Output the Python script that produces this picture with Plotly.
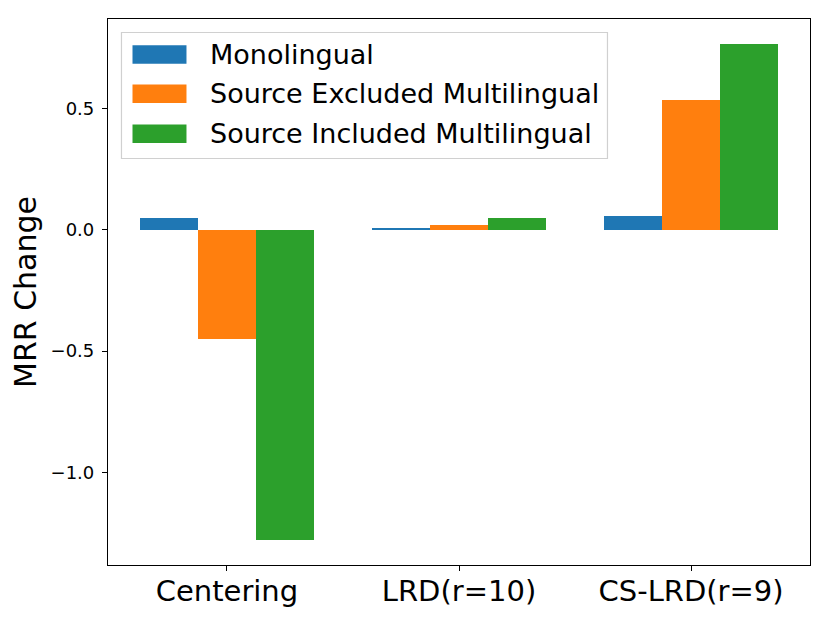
import plotly.graph_objects as go

categories = ["Centering", "LRD(r=10)", "CS-LRD(r=9)"]
series_names = ["Monolingual", "Source Excluded Multilingual", "Source Included Multilingual"]
mono = [0.048, 0.009, 0.059]
src_excl = [-0.449, 0.02, 0.538]
src_incl = [-1.278, 0.048, 0.769]
colors = ["#1f77b4", "#ff7f0e", "#2ca02c"]
offsets = [-0.25, 0.0, 0.25]
ytick_vals = [-1.0, -0.5, 0.0, 0.5]
ytick_text = ["\u22121.0", "\u22120.5", "0.0", "0.5"]

fig = go.Figure()
xpos = list(range(len(categories)))
for name, vals, col, off in zip(series_names, [mono, src_excl, src_incl], colors, offsets):
    fig.add_trace(go.Bar(
        x=[p + off for p in xpos], y=vals, name=name, width=0.25,
        marker=dict(color=col, line=dict(width=0)),
        showlegend=False,
    ))

# manual legend (matplotlib-style patches), positioned in axis-domain coordinates
leg_box = dict(x0=0.0192, x1=0.7115, y0=0.7445, y1=0.9753)
row_y = [0.935, 0.863, 0.790]
patch_x = (0.0349, 0.1118)
patch_h = 0.0339
text_x = 0.1420

fig.add_shape(type="rect", xref="x domain", yref="y domain",
              x0=leg_box["x0"], x1=leg_box["x1"], y0=leg_box["y0"], y1=leg_box["y1"],
              line=dict(color="#d0d0d0", width=1.2), fillcolor="rgba(255,255,255,0.8)",
              layer="above")
for name, col, yy in zip(series_names, colors, row_y):
    fig.add_shape(type="rect", xref="x domain", yref="y domain",
                  x0=patch_x[0], x1=patch_x[1], y0=yy - patch_h / 2, y1=yy + patch_h / 2,
                  line=dict(width=0), fillcolor=col, layer="above")
    fig.add_annotation(xref="x domain", yref="y domain", x=text_x, y=yy,
                       text=name, showarrow=False, xanchor="left", yanchor="middle",
                       font=dict(size=27, family="DejaVu Sans", color="black"))

fig.update_layout(
    width=830, height=623,
    paper_bgcolor="white", plot_bgcolor="white",
    margin=dict(l=100, r=28, t=11, b=66),
    font=dict(family="DejaVu Sans", color="black"),
    bargap=0, barmode="overlay",
    showlegend=False,
    xaxis=dict(
        range=[-0.5125, 2.5125], tickvals=xpos, ticktext=categories,
        showline=True, linecolor="black", linewidth=1.2, mirror=True,
        ticks="outside", ticklen=5, tickcolor="black", tickwidth=1.2,
        tickfont=dict(size=29), showgrid=False, zeroline=False,
        automargin=False, ticklabelstandoff=-5,
    ),
    yaxis=dict(
        range=[-1.383, 0.871], tickvals=ytick_vals, ticktext=ytick_text,
        showline=True, linecolor="black", linewidth=1.2, mirror=True,
        ticks="outside", ticklen=5, tickcolor="black", tickwidth=1.2,
        tickfont=dict(size=18), showgrid=False, zeroline=False,
        ticklabelstandoff=4,
        title=dict(text="MRR Change", font=dict(size=30), standoff=8),
    ),
)

fig.write_html("out.html")
